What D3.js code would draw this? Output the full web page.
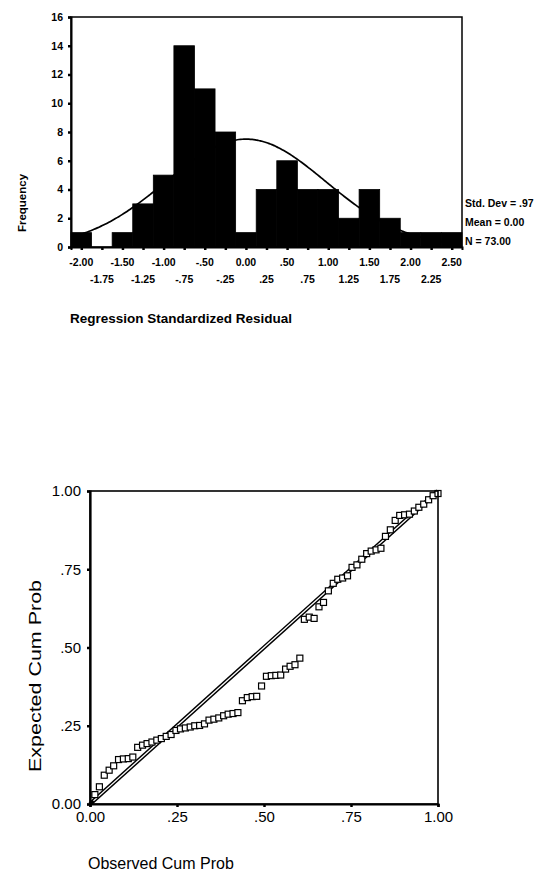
<!DOCTYPE html>
<html><head><meta charset="utf-8">
<script src="https://cdn.jsdelivr.net/npm/d3@7"></script>
<style>
body{margin:0;background:#fff;}
svg{display:block;}
.hist text{font-family:"Liberation Sans",Arial,sans-serif;font-weight:bold;fill:#000;}
.pp text{font-family:"Liberation Sans",Arial,sans-serif;fill:#000;}
</style></head>
<body>
<script>
// ---- Histogram data ----
const binCenters = [-2.00,-1.75,-1.50,-1.25,-1.00,-0.75,-0.50,-0.25,0.00,0.25,0.50,0.75,1.00,1.25,1.50,1.75,2.00,2.25,2.50];
const binCounts  = [1,0,1,3,5,14,11,8,1,4,6,4,4,2,4,2,1,1,1];
const freqTicks = [0,2,4,6,8,10,12,14,16];
const topRowTicks = [-2.00,-1.50,-1.00,-0.50,0.00,0.50,1.00,1.50,2.00,2.50];
const topRowLabels = ["-2.00","-1.50","-1.00","-.50","0.00",".50","1.00","1.50","2.00","2.50"];
const bottomRowTicks = [-1.75,-1.25,-0.75,-0.25,0.25,0.75,1.25,1.75,2.25];
const bottomRowLabels = ["-1.75","-1.25","-.75","-.25",".25",".75","1.25","1.75","2.25"];
const statLabels = ["Std. Dev = .97","Mean = 0.00","N = 73.00"];
const stdDev = 0.97, meanVal = 0.00, nVal = 73, binWidth = 0.25;

// ---- P-P plot data (observed, expected) ----
const observedCum = [0.014,0.027,0.041,0.055,0.068,0.082,0.096,0.110,0.123,0.137,0.151,0.164,0.178,0.192,0.205,0.219,0.233,0.247,0.260,0.274,0.288,0.301,0.315,0.329,0.342,0.356,0.370,0.384,0.397,0.411,0.425,0.438,0.452,0.466,0.479,0.493,0.507,0.521,0.534,0.548,0.562,0.575,0.589,0.603,
0.616,0.630,0.644,0.658,0.671,0.685,0.699,0.712,0.726,0.740,0.753,0.767,0.781,0.795,0.808,0.822,0.836,0.849,0.863,0.877,0.890,0.904,0.918,0.932,0.945,0.959,0.973,0.986,1.000];
const expectedCum = [0.030,0.055,0.092,0.108,0.122,0.142,0.144,0.145,0.150,0.181,0.188,0.193,0.198,0.204,0.209,0.216,0.222,0.235,0.240,0.243,0.246,0.250,0.251,0.256,0.268,0.271,0.275,0.282,0.287,0.289,0.292,0.330,0.340,0.343,0.344,0.377,0.408,0.410,0.411,0.412,0.431,0.440,0.445,0.466,
0.590,0.597,0.593,0.630,0.644,0.681,0.705,0.718,0.722,0.729,0.756,0.764,0.782,0.800,0.808,0.812,0.817,0.855,0.876,0.906,0.922,0.924,0.926,0.936,0.948,0.958,0.972,0.985,0.992];
const ppTicks = [0,0.25,0.5,0.75,1];
const ppLabels = ["0.00",".25",".50",".75","1.00"];

const svg = d3.select("body").append("svg").attr("width",538).attr("height",873);

// ================= Histogram =================
const h = svg.append("g").attr("class","hist");
const hx = d3.scaleLinear().domain([-2.125,2.625]).range([71,462]);
const hy = d3.scaleLinear().domain([0,16]).range([247,17]);

h.selectAll("rect.bar").data(binCenters.map((c,i)=>({c,n:binCounts[i]}))).join("rect")
  .attr("class","bar")
  .attr("x",d=>hx(d.c-binWidth/2)).attr("width",d=>hx(d.c+binWidth/2)-hx(d.c-binWidth/2))
  .attr("y",d=>hy(d.n)).attr("height",d=>hy(0)-hy(d.n))
  .attr("fill","#000").attr("stroke","#000").attr("stroke-width",0.8);

// normal curve from stated mean / sd / N
const curvePts = d3.range(-2.125,2.6251,0.02).map(v=>{
  const z=(v-meanVal)/stdDev;
  return [v, nVal*binWidth/(stdDev*Math.sqrt(2*Math.PI))*Math.exp(-0.5*z*z)];
});
h.append("path").datum(curvePts)
  .attr("d",d3.line().x(d=>hx(d[0])).y(d=>hy(d[1])).curve(d3.curveBasis))
  .attr("fill","none").attr("stroke","#000").attr("stroke-width",1.7);

// frame
h.append("rect").attr("x",hx.range()[0]).attr("y",hy.range()[1])
  .attr("width",hx.range()[1]-hx.range()[0]).attr("height",hy.range()[0]-hy.range()[1])
  .attr("fill","none").attr("stroke","#000").attr("stroke-width",1.5);

// y axis
const hyAxis = h.append("g").attr("transform",`translate(${hx.range()[0]},0)`)
  .call(d3.axisLeft(hy).tickValues(freqTicks).tickSize(3).tickPadding(5).tickFormat(d3.format("d")));
hyAxis.select(".domain").attr("stroke-width",2);
hyAxis.selectAll(".tick line").attr("stroke-width",2.5);
hyAxis.selectAll("text").style("font-size","10.5px");

// x axis (labels in two rows, ticks at each bin center)
const hxAxis = h.append("g").attr("transform",`translate(0,${hy(0)})`)
  .call(d3.axisBottom(hx).tickValues(binCenters).tickSize(3).tickFormat(""));
hxAxis.select(".domain").attr("stroke-width",2);
hxAxis.selectAll(".tick line").attr("stroke-width",2.5);
h.selectAll("text.xt1").data(topRowTicks).join("text").attr("class","xt1")
  .attr("x",d=>hx(d)).attr("y",265.5).attr("text-anchor","middle").style("font-size","10.5px")
  .text((d,i)=>topRowLabels[i]);
h.selectAll("text.xt2").data(bottomRowTicks).join("text").attr("class","xt2")
  .attr("x",d=>hx(d)).attr("y",282.5).attr("text-anchor","middle").style("font-size","10.5px")
  .text((d,i)=>bottomRowLabels[i]);

h.selectAll("text.stat").data(statLabels).join("text").attr("class","stat")
  .attr("x",465).attr("y",(d,i)=>207+i*19).style("font-size","10.5px").text(d=>d);

h.append("text").attr("transform","translate(26,203) rotate(-90)").attr("text-anchor","middle")
  .style("font-size","11.5px").text("Frequency");
h.append("text").attr("x",70).attr("y",323).style("font-size","13.5px")
  .text("Regression Standardized Residual");

// ================= P-P plot =================
const p = svg.append("g").attr("class","pp");
const px = d3.scaleLinear().domain([0,1]).range([90,438]);
const py = d3.scaleLinear().domain([0,1]).range([804,491]);

// diagonal reference (double line)
p.append("line").attr("x1",px(0)).attr("y1",py(0)).attr("x2",px(1)).attr("y2",py(1))
  .attr("stroke","#000").attr("stroke-width",4.2);
p.append("line").attr("x1",px(0.01)).attr("y1",py(0.01)).attr("x2",px(0.99)).attr("y2",py(0.99))
  .attr("stroke","#fff").attr("stroke-width",1.3);

// points
p.selectAll("rect.pt").data(observedCum.map((o,i)=>({o,e:expectedCum[i]}))).join("rect")
  .attr("class","pt")
  .attr("x",d=>px(d.o)-3).attr("y",d=>py(d.e)-3).attr("width",6).attr("height",6)
  .attr("fill","#fff").attr("stroke","#000").attr("stroke-width",1.2);

// frame
p.append("rect").attr("x",px(0)).attr("y",py(1)).attr("width",px(1)-px(0)).attr("height",py(0)-py(1))
  .attr("fill","none").attr("stroke","#000").attr("stroke-width",1.6);

const pyAxis = p.append("g").attr("transform",`translate(${px(0)},0)`)
  .call(d3.axisLeft(py).tickValues(ppTicks).tickSize(3).tickPadding(6).tickFormat((d,i)=>ppLabels[i]));
pyAxis.select(".domain").attr("stroke-width",2.2);
pyAxis.selectAll(".tick line").attr("stroke-width",2.5);
pyAxis.selectAll("text").style("font-size","15px");

const pxAxis = p.append("g").attr("transform",`translate(0,${py(0)})`)
  .call(d3.axisBottom(px).tickValues(ppTicks).tickSize(3).tickPadding(4).tickFormat((d,i)=>ppLabels[i]));
pxAxis.select(".domain").attr("stroke-width",2.2);
pxAxis.selectAll(".tick line").attr("stroke-width",2.5);
pxAxis.selectAll("text").style("font-size","15px");

p.append("text").attr("transform","translate(41,676) rotate(-90)").attr("text-anchor","middle")
  .style("font-size","16px").attr("textLength",192).attr("lengthAdjust","spacingAndGlyphs")
  .text("Expected Cum Prob");
p.append("text").attr("x",88).attr("y",869).style("font-size","16px").text("Observed Cum Prob");
</script>
</body></html>
